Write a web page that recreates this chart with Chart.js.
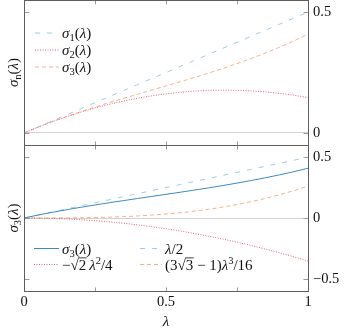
<!DOCTYPE html>
<html lang="en">
<head>
<meta charset="UTF-8">
<title>sigma_n(lambda)</title>
<style>
  html, body { margin: 0; padding: 0; background: #fff; }
  #wrap { position: relative; width: 346px; height: 332px; }
  canvas { position: absolute; left: 0; }
  #top { top: 0; }
  #bottom { top: 144px; }
</style>
</head>
<body>
<div id="wrap">
  <canvas id="top" width="346" height="146"></canvas>
  <canvas id="bottom" width="346" height="188"></canvas>
</div>
<script src="https://cdn.jsdelivr.net/npm/chart.js"></script>
<script>
// lambda samples and curve values
const lam = [0, 0.05, 0.1, 0.15, 0.2, 0.25, 0.3, 0.35, 0.4, 0.45, 0.5,
             0.55, 0.6, 0.65, 0.7, 0.75, 0.8, 0.85, 0.9, 0.95, 1];
const sigma1 = [0, 0.025, 0.05, 0.075, 0.1, 0.125, 0.15, 0.175, 0.2, 0.225, 0.25,
                0.275, 0.3, 0.325, 0.35, 0.375, 0.4, 0.425, 0.45, 0.475, 0.5];
const sigma2 = [0, 0.0241, 0.0465, 0.0670, 0.0859, 0.1029, 0.1182, 0.1317, 0.1434, 0.1534, 0.1616,
                0.1681, 0.1727, 0.1756, 0.1768, 0.1761, 0.1737, 0.1696, 0.1636, 0.1559, 0.1464];
const sigma3 = [0, 0.0242, 0.0467, 0.0679, 0.0880, 0.1070, 0.1253, 0.1429, 0.1602, 0.1773, 0.1944,
                0.2117, 0.2294, 0.2476, 0.2667, 0.2868, 0.3080, 0.3307, 0.3548, 0.3807, 0.4087];
const halfLam = sigma1;
const quadTerm = [0, -0.0009, -0.0035, -0.0080, -0.0141, -0.0221, -0.0318, -0.0433, -0.0566, -0.0716, -0.0884,
                  -0.1070, -0.1273, -0.1494, -0.1732, -0.1989, -0.2263, -0.2554, -0.2864, -0.3191, -0.3536];
const cubicTerm = [0, 0.0000, 0.0003, 0.0009, 0.0021, 0.0041, 0.0071, 0.0112, 0.0168, 0.0239, 0.0328,
                   0.0436, 0.0566, 0.0720, 0.0900, 0.1106, 0.1343, 0.1611, 0.1912, 0.2249, 0.2623];

const xTicks = [0, 0.5, 1];
const xTickLabels = ['0', '0.5', '1'];
const xMinorTicks = [0.25, 0.5, 0.75];
const topYTicks = [0, 0.5];
const topYLabels = ['0', '0.5'];
const botYTicks = [-0.5, 0, 0.5];
const botYLabels = ['\u22120.5', '0', '0.5'];

const FONT = '"Liberation Serif", "DejaVu Serif", serif';
const TXT = 15;
const LIGHTBLUE = '#9fcbea';
const RED = '#e8616f';
const ORANGE = '#f7b08c';
const BLUE = '#3a8ac8';

function pts(arr) {
    return lam.map((l, i) => ({x: l, y: arr[i]}));
}

// small math text helper: segments of [text, style]
function segFont(st, size) {
    const small = st === 'sub' || st === 'sup';
    const sz = small ? size * 0.7 : size;
    return (st === 'i' ? 'italic ' : '') + sz + 'px ' + FONT;
}
function mathWidth(ctx, segs, size) {
    let w = 0;
    for (const [t, st] of segs) { ctx.font = segFont(st, size); w += ctx.measureText(t).width; }
    return w;
}
function drawMath(ctx, segs, x, y, size) {
    ctx.textBaseline = 'alphabetic';
    ctx.textAlign = 'left';
    ctx.fillStyle = '#111';
    for (const [t, st] of segs) {
        ctx.font = segFont(st, size);
        const dy = st === 'sub' ? size * 0.22 : (st === 'sup' ? -size * 0.38 : 0);
        ctx.fillText(t, x, y + dy);
        const w = ctx.measureText(t).width;
        if (st === 'ov') ctx.fillRect(x - 0.5, y - size * 0.8, w + 1, 0.8);
        x += w;
    }
}

function noPad(s) {
    s.paddingTop = 0; s.paddingBottom = 0; s.paddingLeft = 0; s.paddingRight = 0;
}

function makeChart(id, cfg) {
    const deco = {
        id: 'deco',
        afterDatasetsDraw(chart) {
            const ctx = chart.ctx;
            const a = chart.chartArea;
            const l = Math.floor(a.left) + 0.5, r = Math.floor(a.right) + 0.5;
            const t = Math.floor(a.top) + 0.5, b = Math.floor(a.bottom) + 0.5;
            ctx.save();
            // inward tick marks
            ctx.strokeStyle = '#9a9a9a';
            ctx.lineWidth = 1;
            ctx.beginPath();
            xMinorTicks.forEach(v => {
                const px = Math.round(chart.scales.x.getPixelForValue(v)) + 0.5;
                ctx.moveTo(px, t); ctx.lineTo(px, t + 4);
                ctx.moveTo(px, b); ctx.lineTo(px, b - 4);
            });
            cfg.yTicks.forEach(v => {
                const py = Math.round(chart.scales.y.getPixelForValue(v)) + 0.5;
                ctx.moveTo(l, py); ctx.lineTo(l + 5, py);
                ctx.moveTo(r, py); ctx.lineTo(r - 5, py);
            });
            ctx.stroke();
            // frame
            ctx.strokeStyle = '#5e5e5e';
            ctx.strokeRect(l, t, r - l, b - t);
            // legend
            cfg.legend.forEach(item => {
                const ds = chart.data.datasets[item.ds];
                ctx.save();
                ctx.strokeStyle = ds.borderColor;
                ctx.lineWidth = ds.borderWidth;
                ctx.setLineDash(ds.borderDash || []);
                ctx.beginPath();
                ctx.moveTo(item.x1, item.y);
                ctx.lineTo(item.x2, item.y);
                ctx.stroke();
                ctx.restore();
                drawMath(ctx, item.text, item.tx, item.y + 5, TXT);
            });
            // rotated y title
            const w = mathWidth(ctx, cfg.yTitle, TXT);
            ctx.translate(12.5, (a.top + a.bottom) / 2);
            ctx.rotate(-Math.PI / 2);
            drawMath(ctx, cfg.yTitle, -w / 2, 5, TXT);
            ctx.restore();
        }
    };

    return new Chart(document.getElementById(id), {
        type: 'line',
        data: {datasets: cfg.datasets},
        options: {
            responsive: false,
            animation: false,
            layout: {padding: {left: 24, right: 0, top: cfg.padTop, bottom: 0}},
            elements: {point: {radius: 0}, line: {cubicInterpolationMode: 'monotone'}},
            plugins: {legend: {display: false}, tooltip: {enabled: false}},
            scales: {
                x: {
                    type: 'linear', min: 0, max: 1,
                    afterBuildTicks: s => { s.ticks = xTicks.map(v => ({value: v})); },
                    ticks: {
                        display: cfg.showX, color: '#111', padding: 2,
                        font: {family: FONT, size: 14.5},
                        callback: (v, i) => xTickLabels[i]
                    },
                    grid: {display: false, drawTicks: false},
                    border: {display: false},
                    title: {
                        display: cfg.showX, text: 'λ', color: '#111',
                        font: {family: FONT, size: TXT, style: 'italic'},
                        padding: {top: 0, bottom: 1}
                    },
                    afterFit: s => { s.height = cfg.xHeight; noPad(s); }
                },
                y: {
                    type: 'linear', position: 'right', min: cfg.yMin, max: cfg.yMax,
                    afterBuildTicks: s => { s.ticks = cfg.yTicks.map(v => ({value: v})); },
                    ticks: {
                        color: '#111', padding: 5,
                        font: {family: FONT, size: 14.5},
                        callback: (v, i) => cfg.yLabels[i]
                    },
                    grid: {
                        drawTicks: false,
                        color: c => (c.tick && c.tick.value === 0) ? '#d2d2d2' : 'rgba(0,0,0,0)'
                    },
                    border: {display: false},
                    afterFit: s => { s.width = 38; noPad(s); }
                }
            }
        },
        plugins: [deco]
    });
}

const sig = n => [['σ', 'i'], [String(n), 'sub'], ['(', 'r'], ['λ', 'i'], [')', 'r']];

makeChart('top', {
    padTop: 0, showX: false, xHeight: 1,
    yMin: -0.05, yMax: 0.55, yTicks: topYTicks, yLabels: topYLabels,
    yTitle: [['σ', 'i'], ['n', 'sub'], ['(', 'r'], ['λ', 'i'], [')', 'r']],
    datasets: [
        {label: 'σ1(λ)', data: pts(sigma1), borderColor: LIGHTBLUE, borderWidth: 1, borderDash: [5, 7]},
        {label: 'σ2(λ)', data: pts(sigma2), borderColor: RED, borderWidth: 1, borderDash: [1, 1.5]},
        {label: 'σ3(λ)', data: pts(sigma3), borderColor: ORANGE, borderWidth: 1, borderDash: [4, 3]}
    ],
    legend: [
        {ds: 0, x1: 35, x2: 59, tx: 62, y: 33, text: sig(1)},
        {ds: 1, x1: 35, x2: 59, tx: 62, y: 50, text: sig(2)},
        {ds: 2, x1: 35, x2: 59, tx: 62, y: 67, text: sig(3)}
    ]
});

makeChart('bottom', {
    padTop: 1, showX: true, xHeight: 41,
    yMin: -0.6, yMax: 0.6, yTicks: botYTicks, yLabels: botYLabels,
    yTitle: sig(3),
    datasets: [
        {label: 'σ3(λ)', data: pts(sigma3), borderColor: BLUE, borderWidth: 1},
        {label: 'λ/2', data: pts(halfLam), borderColor: LIGHTBLUE, borderWidth: 1, borderDash: [5, 7]},
        {label: '−√2λ²/4', data: pts(quadTerm), borderColor: RED, borderWidth: 1, borderDash: [1, 1.5]},
        {label: '(3√3−1)λ³/16', data: pts(cubicTerm), borderColor: ORANGE, borderWidth: 1, borderDash: [4, 3]}
    ],
    legend: [
        {ds: 0, x1: 34, x2: 59, tx: 62, y: 104.5, text: sig(3)},
        {ds: 1, x1: 140, x2: 162, tx: 165, y: 104.5, text: [['λ', 'i'], ['/2', 'r']]},
        {ds: 2, x1: 34, x2: 59, tx: 62, y: 120.5,
         text: [['\u2212', 'r'], ['√', 'r'], ['2', 'ov'], ['\u2009', 'r'], ['λ', 'i'], ['2', 'sup'], ['/4', 'r']]},
        {ds: 3, x1: 140, x2: 162, tx: 165, y: 120.5,
         text: [['(3', 'r'], ['√', 'r'], ['3', 'ov'], [' \u2212 1)', 'r'], ['λ', 'i'], ['3', 'sup'], ['/16', 'r']]}
    ]
});
</script>
</body>
</html>
